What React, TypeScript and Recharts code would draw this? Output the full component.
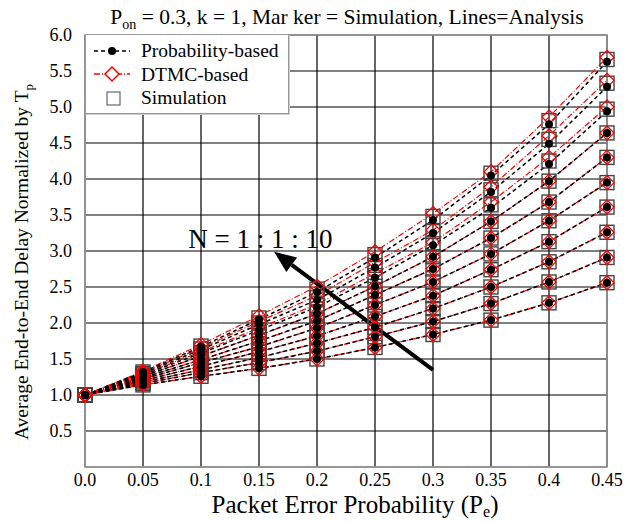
import React from "react";
import {
  LineChart, Line, XAxis, YAxis, CartesianGrid, ReferenceLine, ReferenceDot, ReferenceArea, Label,
} from "recharts";

// packet error probability (x)
const xValues = [0, 0.05, 0.1, 0.15, 0.2, 0.25, 0.3, 0.35, 0.4, 0.45];
const xTickLabels = ["0.0", "0.05", "0.1", "0.15", "0.2", "0.25", "0.3", "0.35", "0.4", "0.45"];
const yTicks = [0.5, 1.0, 1.5, 2.0, 2.5, 3.0, 3.5, 4.0, 4.5, 5.0, 5.5, 6.0];

// one row per N = 1..10, one value per x
const probabilityBased = [
  [1.0, 1.14, 1.26, 1.37, 1.50, 1.66, 1.84, 2.04, 2.28, 2.56],
  [1.0, 1.16, 1.31, 1.45, 1.61, 1.81, 2.02, 2.27, 2.57, 2.91],
  [1.0, 1.18, 1.35, 1.52, 1.72, 1.94, 2.20, 2.50, 2.85, 3.26],
  [1.0, 1.20, 1.40, 1.60, 1.82, 2.09, 2.38, 2.74, 3.13, 3.61],
  [1.0, 1.22, 1.45, 1.67, 1.93, 2.25, 2.57, 2.96, 3.42, 3.95],
  [1.0, 1.24, 1.49, 1.75, 2.03, 2.39, 2.75, 3.18, 3.68, 4.30],
  [1.0, 1.26, 1.54, 1.83, 2.13, 2.51, 2.92, 3.41, 3.97, 4.64],
  [1.0, 1.28, 1.58, 1.90, 2.22, 2.63, 3.08, 3.60, 4.21, 4.94],
  [1.0, 1.30, 1.63, 1.98, 2.32, 2.77, 3.25, 3.82, 4.49, 5.28],
  [1.0, 1.32, 1.67, 2.05, 2.43, 2.91, 3.43, 4.05, 4.76, 5.63],
];

const dtmcBased = [
  [1.0, 1.14, 1.26, 1.37, 1.50, 1.66, 1.84, 2.04, 2.28, 2.56],
  [1.0, 1.16, 1.31, 1.45, 1.61, 1.81, 2.02, 2.27, 2.57, 2.91],
  [1.0, 1.18, 1.35, 1.52, 1.72, 1.94, 2.20, 2.50, 2.85, 3.26],
  [1.0, 1.20, 1.40, 1.60, 1.82, 2.09, 2.38, 2.74, 3.13, 3.61],
  [1.0, 1.22, 1.45, 1.67, 1.93, 2.25, 2.57, 2.96, 3.42, 3.95],
  [1.0, 1.24, 1.49, 1.75, 2.03, 2.39, 2.75, 3.18, 3.68, 4.30],
  [1.0, 1.26, 1.54, 1.83, 2.13, 2.51, 2.92, 3.41, 3.97, 4.64],
  [1.0, 1.29, 1.60, 1.93, 2.26, 2.69, 3.12, 3.68, 4.30, 5.00],
  [1.0, 1.31, 1.65, 2.02, 2.38, 2.84, 3.29, 3.89, 4.60, 5.37],
  [1.0, 1.33, 1.70, 2.10, 2.51, 2.99, 3.52, 4.10, 4.86, 5.69],
];

const simulation = [
  [1.0, 1.14, 1.26, 1.37, 1.50, 1.66, 1.84, 2.04, 2.28, 2.56],
  [1.0, 1.16, 1.31, 1.45, 1.61, 1.81, 2.02, 2.27, 2.57, 2.91],
  [1.0, 1.18, 1.35, 1.52, 1.72, 1.94, 2.20, 2.50, 2.85, 3.26],
  [1.0, 1.20, 1.40, 1.60, 1.82, 2.09, 2.38, 2.74, 3.13, 3.61],
  [1.0, 1.22, 1.45, 1.67, 1.93, 2.25, 2.57, 2.96, 3.42, 3.95],
  [1.0, 1.24, 1.49, 1.75, 2.03, 2.39, 2.75, 3.18, 3.68, 4.30],
  [1.0, 1.26, 1.54, 1.83, 2.13, 2.51, 2.92, 3.41, 3.97, 4.64],
  [1.0, 1.28, 1.59, 1.91, 2.24, 2.66, 3.10, 3.64, 4.25, 4.97],
  [1.0, 1.30, 1.64, 2.00, 2.35, 2.80, 3.27, 3.85, 4.55, 5.33],
  [1.0, 1.32, 1.68, 2.07, 2.47, 2.95, 3.48, 4.08, 4.81, 5.66],
];

const FONT = '"Liberation Serif", "Times New Roman", Times, serif';

const data = xValues.map((x, i) => {
  const row: Record<string, number> = { x };
  probabilityBased.forEach((s, n) => (row[`p${n}`] = s[i]));
  dtmcBased.forEach((s, n) => (row[`d${n}`] = s[i]));
  simulation.forEach((s, n) => (row[`s${n}`] = s[i]));
  return row;
});

const BlackDot = (props: any) => (
  <circle key={`b-${props.dataKey}-${props.index}`} cx={props.cx} cy={props.cy} r={4} fill="#000" />
);

const RedDiamond = (props: any) => {
  const { cx, cy } = props;
  const h = 7;
  return (
    <polygon
      key={`r-${props.dataKey}-${props.index}`}
      points={`${cx},${cy - h} ${cx + h},${cy} ${cx},${cy + h} ${cx - h},${cy}`}
      fill="none"
      stroke="#ff0000"
      strokeWidth={1.3}
    />
  );
};

const GraySquare = (props: any) => (
  <rect
    key={`g-${props.dataKey}-${props.index}`}
    x={props.cx - 7}
    y={props.cy - 7}
    width={14}
    height={14}
    fill="none"
    stroke="#444"
    strokeWidth={1.4}
  />
);

const ArrowShape = (props: any) => {
  const { x1, y1, x2, y2 } = props;
  const ang = Math.atan2(y2 - y1, x2 - x1);
  const len = 22;
  const wid = 9;
  const bx = x2 - len * Math.cos(ang);
  const by = y2 - len * Math.sin(ang);
  const px = -Math.sin(ang) * wid;
  const py = Math.cos(ang) * wid;
  return (
    <g>
      <line x1={x1} y1={y1} x2={bx} y2={by} stroke="#000" strokeWidth={4} />
      <polygon points={`${x2},${y2} ${bx + px},${by + py} ${bx - px},${by - py}`} fill="#000" />
    </g>
  );
};

const NText = (props: any) => (
  <text x={props.cx} y={props.cy} style={{ fontFamily: FONT }} fontSize={27} fill="#000">
    N = 1 : 1 : 10
  </text>
);

const LegendBox = () => (
  <div
    style={{
      position: "absolute",
      top: 34,
      left: 85,
      zIndex: 2,
      background: "#fff",
      border: "1px solid #999",
      boxShadow: "1px 1px 0 #ccc",
      padding: "4px 6px 3px 6px",
      fontFamily: FONT,
      fontSize: 19.5,
      lineHeight: "23.5px",
      width: 190,
      whiteSpace: "nowrap",
    }}
  >
    <div style={{ display: "flex", alignItems: "center" }}>
      <svg width={40} height={20} style={{ marginRight: 9, flexShrink: 0 }}>
        <line x1={2} y1={10} x2={38} y2={10} stroke="#000" strokeWidth={1.5} strokeDasharray="4 3" />
        <circle cx={20} cy={10} r={4} fill="#000" />
      </svg>
      Probability-based
    </div>
    <div style={{ display: "flex", alignItems: "center" }}>
      <svg width={40} height={20} style={{ marginRight: 9, flexShrink: 0 }}>
        <line x1={2} y1={10} x2={38} y2={10} stroke="#ff0000" strokeWidth={1.5} strokeDasharray="6 2 1 2" />
        <polygon points="20,3 27,10 20,17 13,10" fill="#fff" stroke="#ff0000" strokeWidth={1.5} />
      </svg>
      DTMC-based
    </div>
    <div style={{ display: "flex", alignItems: "center" }}>
      <svg width={40} height={20} style={{ marginRight: 9, flexShrink: 0 }}>
        <rect x={15} y={4} width={13} height={13} fill="none" stroke="#666" strokeWidth={1.2} />
      </svg>
      Simulation
    </div>
  </div>
);

const XTitle = () => (
  <text x={355} y={513} textAnchor="middle" style={{ fontFamily: FONT }} fontSize={25} fill="#000">
    Packet Error Probability (P<tspan fontSize={16} dy={4}>e</tspan><tspan dy={-4}>)</tspan>
  </text>
);

const YTitle = () => (
  <text
    x={0}
    y={0}
    transform="translate(28, 262) rotate(-90)"
    textAnchor="middle"
    style={{ fontFamily: FONT }}
    fontSize={19.5}
    fill="#000"
  >
    Average End-to-End Delay Normalized by T<tspan fontSize={13} dy={5}>p</tspan>
  </text>
);

export default function App() {
  return (
    <div
      style={{
        position: "absolute",
        left: 0,
        top: 0,
        width: 627,
        height: 523,
        background: "#fff",
        fontFamily: FONT,
      }}
    >
      <div
        style={{
          position: "absolute",
          top: 3,
          left: 347 - 300,
          width: 600,
          textAlign: "center",
          fontFamily: FONT,
          fontSize: 21.5,
          lineHeight: "28px",
          zIndex: 2,
        }}
      >
        P<sub style={{ fontSize: 14, verticalAlign: "-5px", lineHeight: 0 }}>on</sub> = 0.3, k = 1, Mar ker = Simulation, Lines=Analysis
      </div>
      <LegendBox />
      <LineChart
        width={627}
        height={523}
        data={data}
        margin={{ top: 35, right: 20, bottom: 0, left: 0 }}
        style={{ fontFamily: FONT }}
      >
        <CartesianGrid stroke="#000" strokeWidth={1.2} />
        <XAxis
          dataKey="x"
          type="number"
          domain={[0, 0.45]}
          ticks={xValues}
          tickFormatter={(v: number) => xTickLabels[xValues.indexOf(v)] ?? String(v)}
          tick={{ fontFamily: FONT, fontSize: 18, fill: "#000" }}
          tickLine={false}
          axisLine={{ stroke: "#999" }}
          height={56}
          tickMargin={0}
          interval={0}
        >
          <Label content={XTitle} />
        </XAxis>
        <YAxis
          type="number"
          domain={[0, 6]}
          ticks={yTicks}
          tickFormatter={(v: number) => v.toFixed(1)}
          tick={{ fontFamily: FONT, fontSize: 18, fill: "#000" }}
          tickLine={false}
          axisLine={{ stroke: "#999" }}
          width={85}
          tickMargin={7}
          interval={0}
        >
          <Label content={YTitle} />
        </YAxis>
        <ReferenceArea x1={0} x2={0.45} y1={0} y2={6} fill="none" stroke="#999" strokeWidth={1.5} />
        {simulation.map((_, n) => (
          <Line
            key={`s${n}`}
            dataKey={`s${n}`}
            stroke="none"
            dot={GraySquare}
            activeDot={false}
            isAnimationActive={false}
            legendType="none"
          />
        ))}
        {dtmcBased.map((_, n) => (
          <Line
            key={`d${n}`}
            dataKey={`d${n}`}
            stroke="#ff0000"
            strokeWidth={1.2}
            strokeDasharray="6 2 1 2"
            dot={RedDiamond}
            activeDot={false}
            isAnimationActive={false}
            legendType="none"
          />
        ))}
        {probabilityBased.map((_, n) => (
          <Line
            key={`p${n}`}
            dataKey={`p${n}`}
            stroke="#000"
            strokeWidth={1.5}
            strokeDasharray="4 3"
            dot={BlackDot}
            activeDot={false}
            isAnimationActive={false}
            legendType="none"
          />
        ))}
        <ReferenceLine segment={[{ x: 0.3, y: 1.35 }, { x: 0.163, y: 2.99 }]} shape={ArrowShape} />
        <ReferenceDot x={0.089} y={3.04} r={0} shape={NText} />
      </LineChart>
    </div>
  );
}
